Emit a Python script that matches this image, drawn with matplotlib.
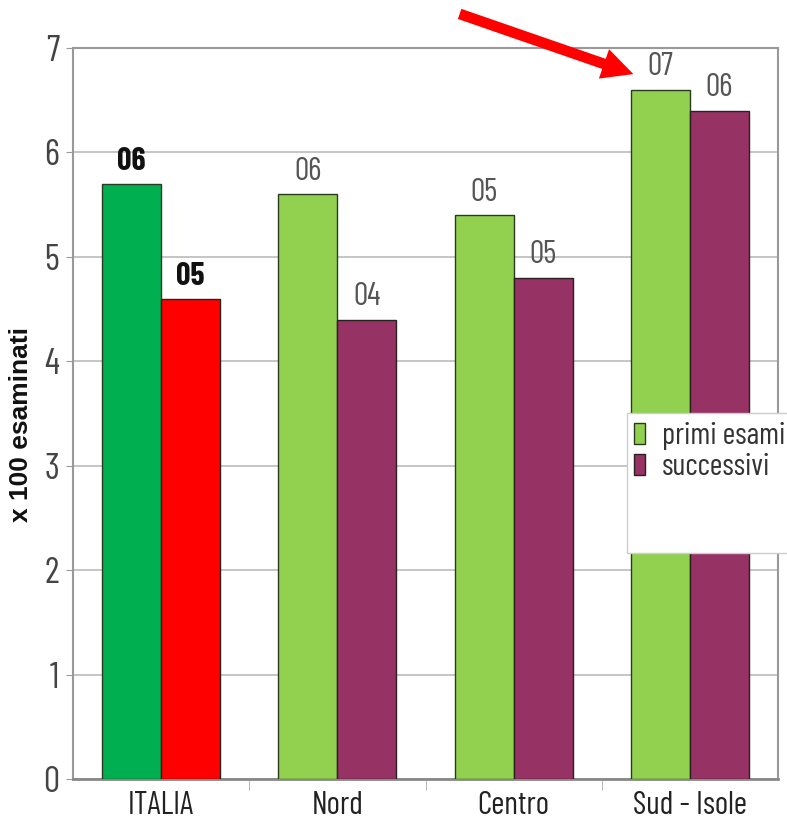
import matplotlib
matplotlib.use("Agg")
import matplotlib.pyplot as plt
import numpy as np
from matplotlib.patches import Patch, Rectangle, FancyArrowPatch

categories = ["ITALIA", "Nord", "Centro", "Sud - Isole"]
primi = [5.7, 5.6, 5.4, 6.6]
successivi = [4.6, 4.4, 4.8, 6.4]
primi_labels = ["06", "06", "05", "07"]
succ_labels = ["05", "04", "05", "06"]
primi_colors = ["#00B050", "#92D050", "#92D050", "#92D050"]
succ_colors = ["#FF0000", "#963264", "#963264", "#963264"]
series_names = ["primi esami", "successivi"]

fam = ["Liberation Sans Narrow", "Barlow Condensed", "Archivo Narrow", "DejaVu Sans"]

fig = plt.figure(figsize=(7.87, 8.23), dpi=100)
ax = fig.add_axes([73/787, 44/823, 705/787, 731/823])

x = np.arange(len(categories))
w = 0.335
b1 = ax.bar(x - w/2, primi, w, color=primi_colors, edgecolor="#2a3a20", linewidth=1.0, zorder=3)
b2 = ax.bar(x + w/2, successivi, w, color=succ_colors, edgecolor="#2a2020", linewidth=1.0, zorder=3)

for bars, labels in ((b1, primi_labels), (b2, succ_labels)):
    for i, (r, t) in enumerate(zip(bars, labels)):
        ax.text(r.get_x() + r.get_width()/2, r.get_height() + 0.07, t, ha="center", va="bottom",
                fontsize=23, family=fam, color="#111111" if i == 0 else "#555555",
                fontweight="bold" if i == 0 else "normal")

ax.set_xlim(-0.5, len(categories) - 0.5)
ax.set_ylim(0, 7)
ax.set_yticks(range(0, 8))
ax.set_yticklabels([str(v) for v in range(0, 8)], family=fam, fontsize=26, color="#444444")
ax.set_xticks(x)
ax.set_xticklabels(categories, family=fam, fontsize=23, color="#222222")
ax.tick_params(axis="x", length=0, pad=9)
ax.tick_params(axis="y", length=5, color="#999999", pad=5)
ax.set_xticks(np.arange(0.5, len(categories) - 0.5, 1), minor=True)
ax.tick_params(axis="x", which="minor", length=8, color="#aaaaaa", direction="out")

ax.grid(axis="y", color="#bbbbbb", linewidth=1.2, zorder=0)
for s in ["left", "top", "right"]:
    ax.spines[s].set_color("#999999")
    ax.spines[s].set_linewidth(1.5)
ax.spines["bottom"].set_color("#888888")
ax.spines["bottom"].set_linewidth(2)

fig.text(21/787, 1 - 425/823, "x 100 esaminati", rotation=90, ha="center", va="center",
         fontsize=19, fontweight="bold", family=["Liberation Sans", "DejaVu Sans"], color="#111111")

# legend box
fig.add_artist(Rectangle((627/787, 1 - 553/823), 170/787, 140/823, transform=fig.transFigure,
                         facecolor="white", edgecolor="#cccccc", linewidth=1.0, zorder=5))
handles = [Patch(facecolor="#92D050", edgecolor="#2a3a20"), Patch(facecolor="#963264", edgecolor="#2a2020")]
leg = fig.legend(handles, series_names, loc="upper left", bbox_to_anchor=(628/787, 1 - 416/823),
                 prop={"family": fam, "size": 22}, frameon=False,
                 handlelength=0.35, handleheight=0.7, handletextpad=0.55, borderpad=0.2,
                 labelspacing=0.1, borderaxespad=0)
leg.set_zorder(6)
for t in leg.get_texts():
    t.set_color("#333333")

fig.add_artist(FancyArrowPatch(
    (457/787, 1 - 13/823), (636/787, 1 - 75/823), transform=fig.transFigure,
    arrowstyle="simple,head_length=1.6,head_width=1.6,tail_width=0.55",
    mutation_scale=14, color="#FF0000", linewidth=0))

fig.savefig("out.png", dpi=100)
